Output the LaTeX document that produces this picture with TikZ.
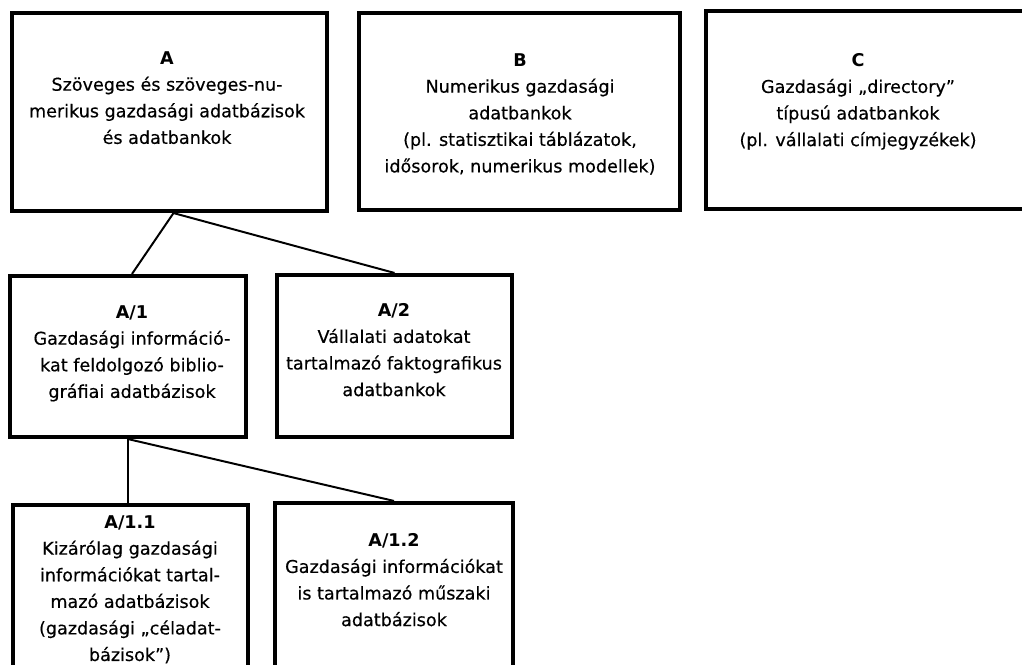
\documentclass[tikz,border=0pt]{standalone}
\usepackage{fontspec}
\setmainfont{DejaVu Sans}[UprightFeatures={FakeBold=0.4}]

\tikzset{
  box/.style={draw,line width=2.9pt,fill=white,inner sep=0pt},
  txt/.style={align=center,anchor=north,inner sep=0pt,font=\fontsize{12.5}{18.9}\selectfont},
  conn/.style={line width=1.4pt}
}

\begin{document}
\begin{tikzpicture}[x=0.025cm,y=-0.025cm]
\useasboundingbox (0,0) rectangle (1022,665);
\clip (0,0) rectangle (1022,665);
% upper row
\node[box,minimum width=7.875cm,minimum height=4.95cm] (A) at (169.5,112) {};
\node[box,minimum width=8.025cm,minimum height=4.925cm] (B) at (519.5,111.5) {};
\node[box,minimum width=8.2cm,minimum height=4.95cm] (C) at (870,110) {};
% second row
\node[box,minimum width=5.9cm,minimum height=4.025cm] (A1) at (128,356.5) {};
\node[box,minimum width=5.875cm,minimum height=4.05cm] (A2) at (394.5,356) {};
% third row
\node[box,minimum width=5.875cm,minimum height=4.5cm] (A11) at (130.5,595) {};
\node[box,minimum width=5.95cm,minimum height=4.5cm] (A12) at (394,593) {};
% texts
\node[txt] (tA) at (167,51) {\textbf{A}\\Szöveges és szöveges-nu-\\merikus gazdasági adatbázisok\\és adatbankok};
\node[txt] (tB) at (520,53) {\textbf{B}\\Numerikus gazdasági\\adatbankok\\(pl. statisztikai táblázatok,\\idősorok, numerikus modellek)};
\node[txt] (tC) at (858,53) {\textbf{C}\\Gazdasági „directory”\\típusú adatbankok\\(pl. vállalati címjegyzékek)};
\node[txt] (tA1) at (132,305) {\textbf{A/1}\\Gazdasági információ-\\kat feldolgozó biblio-\\gráfiai adatbázisok};
\node[txt] (tA2) at (394,303) {\textbf{A/2}\\Vállalati adatokat\\tartalmazó faktografikus\\adatbankok};
\node[txt] (tA11) at (130,515) {\textbf{A/1.1}\\Kizárólag gazdasági\\információkat tartal-\\mazó adatbázisok\\(gazdasági „céladat-\\bázisok”)};
\node[txt] (tA12) at (394,533) {\textbf{A/1.2}\\Gazdasági információkat\\is tartalmazó műszaki\\adatbázisok};
% connectors
\draw[conn] ([xshift=1mm]A.south) -- ([xshift=1mm]A1.north);
\draw[conn] ([xshift=1mm]A.south) -- (A2.north);
\draw[conn] (A1.south) -- (A1.south |- A11.north);
\draw[conn] (A1.south) -- (A12.north);
\end{tikzpicture}
\end{document}
